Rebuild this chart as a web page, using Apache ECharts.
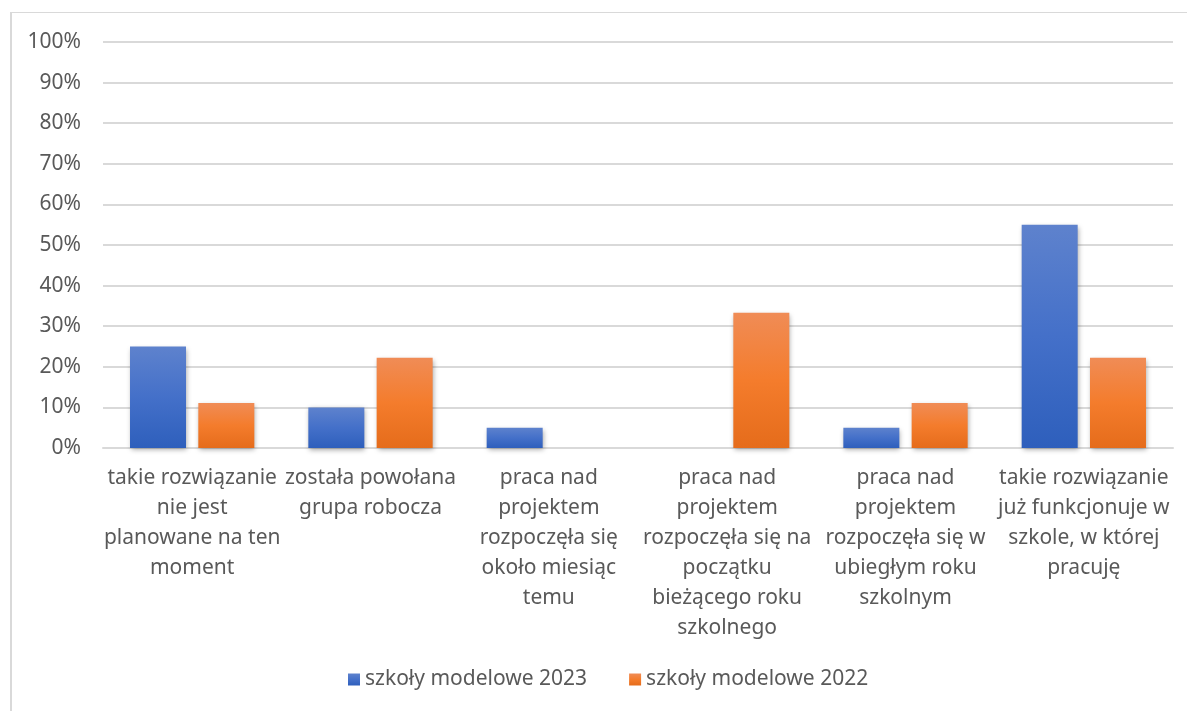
<!DOCTYPE html>
<html style="height: 100%">

<head>
    <meta charset="utf-8">
</head>

<body style="height: 100%; margin: 0; background: #fff">
    <div id="frame" style="position: absolute; left: 10px; top: 12px; right: 0; bottom: 0; border-left: 2px solid #d9d9d9; border-top: 1px solid #d9d9d9"></div>
    <div id="container" style="position: absolute; left: 0; top: 0; width: 1187px; height: 711px"></div>

    <script type="text/javascript" src="https://cdn.jsdelivr.net/npm/echarts@6/dist/echarts.min.js"></script>

    <script type="text/javascript">

        var categories = [
            'takie rozwiązanie\nnie jest\nplanowane na ten\nmoment',
            'została powołana\ngrupa robocza',
            'praca nad\nprojektem\nrozpoczęła się\nokoło miesiąc\ntemu',
            'praca nad\nprojektem\nrozpoczęła się na\npoczątku\nbieżącego roku\nszkolnego',
            'praca nad\nprojektem\nrozpoczęła się w\nubiegłym roku\nszkolnym',
            'takie rozwiązanie\njuż funkcjonuje w\nszkole, w której\npracuję'
        ];
        var seriesNames = ['szkoły modelowe 2023', 'szkoły modelowe 2022'];
        var values2023 = [25, 10, 5, 0, 5, 55];
        var values2022 = [11.1, 22.2, 0, 33.3, 11.1, 22.2];

        var dom = document.getElementById("container");
        var myChart = echarts.init(dom);
        var font = 'Noto Sans';
        var textColor = '#595959';

        function grad(top, mid, bottom) {
            return new echarts.graphic.LinearGradient(0, 0, 0, 1, [
                { offset: 0, color: top },
                { offset: 0.5, color: mid },
                { offset: 1, color: bottom }
            ]);
        }

        var barStyle = {
            shadowBlur: 5,
            shadowColor: 'rgba(0,0,0,0.35)',
            shadowOffsetX: 1,
            shadowOffsetY: 2
        };

        var option = {
            animation: false,
            textStyle: { fontFamily: font },
            grid: {
                left: 103,
                right: 14,
                top: 42,
                bottom: 263
            },
            legend: {
                bottom: 16,
                left: 343,
                itemWidth: 12,
                itemHeight: 12,
                itemGap: 42,
                itemTextGap: 6,
                icon: 'rect',
                textStyle: { color: textColor, fontSize: 21, fontFamily: font },
                data: seriesNames
            },
            xAxis: {
                type: 'category',
                data: categories,
                axisLine: { lineStyle: { color: '#d9d9d9', width: 2 } },
                axisTick: { show: false },
                axisLabel: {
                    interval: 0,
                    margin: 15,
                    color: textColor,
                    fontSize: 21,
                    lineHeight: 30,
                    fontFamily: font
                }
            },
            yAxis: {
                type: 'value',
                min: 0,
                max: 100,
                interval: 10,
                axisLine: { show: false },
                axisTick: { show: false },
                splitLine: { lineStyle: { color: '#d9d9d9', width: 2 } },
                axisLabel: {
                    margin: 22,
                    color: textColor,
                    fontSize: 21,
                    fontFamily: font,
                    formatter: '{value}%'
                }
            },
            series: [
                {
                    name: seriesNames[0],
                    type: 'bar',
                    barWidth: 56,
                    barGap: '22%',
                    data: values2023,
                    itemStyle: Object.assign({ color: grad('#5e82cd', '#4470c9', '#2e5fbc') }, barStyle)
                },
                {
                    name: seriesNames[1],
                    type: 'bar',
                    barWidth: 56,
                    barGap: '22%',
                    data: values2022,
                    itemStyle: Object.assign({ color: grad('#f08c56', '#f47c2c', '#e56c1b') }, barStyle)
                }
            ]
        };

        myChart.setOption(option);

    </script>
</body>

</html>
